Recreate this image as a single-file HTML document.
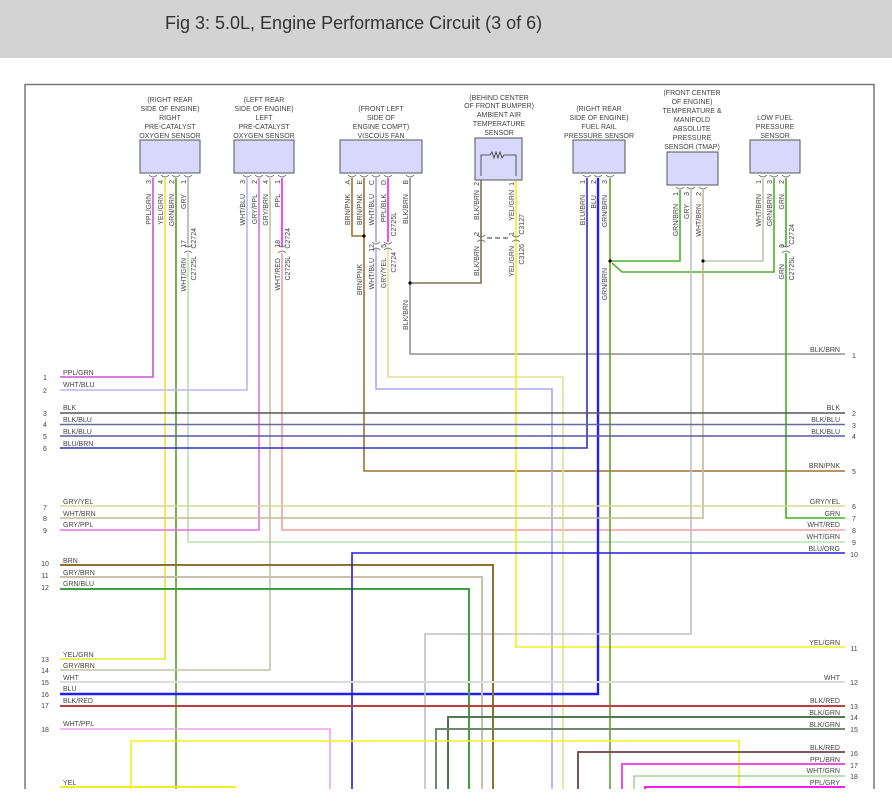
<!DOCTYPE html>
<html><head><meta charset="utf-8"><style>
html,body{margin:0;padding:0;background:#fff;width:892px;height:807px;overflow:hidden}
svg{display:block}
text{font-family:"Liberation Sans",sans-serif;fill:#444}
.s{font-size:7px}
.n{font-size:7px;fill:#555}
.v text{text-anchor:end}
</style></head><body>
<svg width="892" height="807" viewBox="0 0 892 807" xmlns="http://www.w3.org/2000/svg">
<rect x="0" y="0" width="892" height="58" fill="#d3d3d3"/>
<text x="165" y="29" style="font-size:18px;fill:#333">Fig 3: 5.0L, Engine Performance Circuit (3 of 6)</text>
<rect x="0" y="788" width="892" height="19" fill="#fff"/>
<path d="M25 789 V84.5 H874 V789" fill="none" stroke="#777" stroke-width="1.5"/>

<g fill="none" stroke-width="1.6">
<path d="M153 178 V377 H60" stroke="#d050d0"/>
<path d="M165 178 V659 H60" stroke="#e8e830"/>
<path d="M176 178 V789" stroke="#50a020"/>
<path d="M188 178 V247" stroke="#b0b0b0"/>
<path d="M188 253 V542 H845" stroke="#b8e0b0"/>
<path d="M247 178 V390 H60" stroke="#b8b8f0"/>
<path d="M259 178 V530 H60" stroke="#e070e0"/>
<path d="M270 178 V670 H60" stroke="#c8c0a8"/>
<path d="M282 178 V247" stroke="#f020f0"/>
<path d="M282 253 V530 H845" stroke="#f0a0a0"/>
<path d="M352 178 V236 H364" stroke="#a07030"/>
<path d="M364 178 V471 H845" stroke="#a07030"/>
<path d="M376 178 V242" stroke="#a0a0f0"/>
<path d="M376 248 V389 H552 V789" stroke="#a8a8f0"/>
<path d="M388 178 V242" stroke="#f020f0"/>
<path d="M388 248 V377 H563 V789" stroke="#e0e090"/>
<path d="M410 178 V354 H845" stroke="#909090"/>
<path d="M410 283 H481 V180" stroke="#807050"/>
<path d="M516 180 V647 H845" stroke="#f0f020"/>
<path d="M487 238 H510" stroke="#777" stroke-dasharray="5,3"/>
<path d="M587 178 V448 H60" stroke="#3030c0"/>
<path d="M598 178 V694 H60" stroke="#2020f0" stroke-width="2.4"/>
<path d="M610 178 V789" stroke="#60a030"/>
<path d="M610 261 H680 V190" stroke="#50b030"/>
<path d="M612 263 L622 272 H774 V178" stroke="#50b030"/>
<path d="M691 190 V634 H425 V789" stroke="#c0c0c0"/>
<path d="M703 190 V518 H60" stroke="#c8b890"/>
<path d="M703 261 H763 V178" stroke="#c8c0b0"/>
<path d="M786 178 V247" stroke="#40b020"/>
<path d="M786 253 V518 H845" stroke="#40b020"/>
<path d="M60 413 H845" stroke="#555"/>
<path d="M60 424.5 H845" stroke="#6868a0"/>
<path d="M60 436 H845" stroke="#5858a8"/>
<path d="M60 506 H845" stroke="#d8d890"/>
<path d="M60 565 H493 V789" stroke="#907030" stroke-width="2"/>
<path d="M60 577 H482 V789" stroke="#c8c0a8" stroke-width="2"/>
<path d="M60 589 H469 V789" stroke="#40a040" stroke-width="2"/>
<path d="M845 553 H352 V789" stroke="#2020e0"/>
<path d="M60 682 H845" stroke="#dcdcdc" stroke-width="2"/>
<path d="M60 706 H845" stroke="#e04040" stroke-width="2"/>
<path d="M60 706 H845" stroke="#444" stroke-width="0.6"/>
<path d="M845 717 H448 V789" stroke="#507850" stroke-width="2"/>
<path d="M845 729 H436 V789" stroke="#708870" stroke-width="2"/>
<path d="M60 729 H330 V789" stroke="#f0a0f0"/>
<path d="M131 789 V741 H739 V789" stroke="#f0f020"/>
<path d="M845 752 H578 V789" stroke="#704040" stroke-width="1.8"/>
<path d="M845 764 H622 V789" stroke="#f050e0" stroke-width="2"/>
<path d="M845 776 H634 V789" stroke="#a0d890"/>
<path d="M845 787 H645 V789" stroke="#f020f0" stroke-width="2"/>
<path d="M60 787 H236" stroke="#f0f020" stroke-width="2"/>
</g>
<g fill="#000"><circle cx="364" cy="236" r="1.6"/><circle cx="410" cy="283" r="1.6"/><circle cx="610" cy="261" r="1.6"/><circle cx="703" cy="261" r="1.6"/></g>
<g fill="none" stroke="#666" stroke-width="0.8">
<path d="M149 175 q4 4 8 0 M161 175 q4 4 8 0 M172 175 q4 4 8 0 M184 175 q4 4 8 0"/>
<path d="M243 175 q4 4 8 0 M255 175 q4 4 8 0 M266 175 q4 4 8 0 M278 175 q4 4 8 0"/>
<path d="M348 175 q4 4 8 0 M360 175 q4 4 8 0 M372 175 q4 4 8 0 M384 175 q4 4 8 0 M406 175 q4 4 8 0"/>
<path d="M583 175 q4 4 8 0 M594 175 q4 4 8 0 M606 175 q4 4 8 0"/>
<path d="M676 187 q4 4 8 0 M687 187 q4 4 8 0 M699 187 q4 4 8 0"/>
<path d="M759 175 q4 4 8 0 M770 175 q4 4 8 0 M782 175 q4 4 8 0"/>
<path d="M184 245 q4 4 8 0 M184 253 q4 -4 8 0"/>
<path d="M278 245 q4 4 8 0 M278 253 q4 -4 8 0"/>
<path d="M372 242 q4 4 8 0 M372 250 q4 -4 8 0"/>
<path d="M384 242 q4 4 8 0 M384 250 q4 -4 8 0"/>
<path d="M477 235 q4 4 8 0 M477 242 q4 -4 8 0"/>
<path d="M512 235 q4 4 8 0 M512 242 q4 -4 8 0"/>
<path d="M782 245 q4 4 8 0 M782 253 q4 -4 8 0"/>
</g>
<g fill="#d8d8fa" stroke="#555" stroke-width="1">
<rect x="140" y="140" width="60" height="33"/>
<rect x="234" y="140" width="60" height="33"/>
<rect x="340" y="140" width="82" height="33"/>
<rect x="475" y="138" width="47" height="42"/>
<rect x="573" y="140" width="52" height="33"/>
<rect x="667" y="152" width="51" height="33"/>
<rect x="750" y="140" width="50" height="33"/>
</g>
<path d="M481 176 V155 H490 l2 -3 2 6 2 -6 2 6 2 -6 2 6 2 -3 H516 V176" fill="none" stroke="#333" stroke-width="0.8"/>
<g class="s" text-anchor="middle">
<text x="170" y="102">(RIGHT REAR</text><text x="170" y="111">SIDE OF ENGINE)</text><text x="170" y="120">RIGHT</text><text x="170" y="129">PRE-CATALYST</text><text x="170" y="138">OXYGEN SENSOR</text>
<text x="264" y="102">(LEFT REAR</text><text x="264" y="111">SIDE OF ENGINE)</text><text x="264" y="120">LEFT</text><text x="264" y="129">PRE-CATALYST</text><text x="264" y="138">OXYGEN SENSOR</text>
<text x="381" y="111">(FRONT LEFT</text><text x="381" y="120">SIDE OF</text><text x="381" y="129">ENGINE COMPT)</text><text x="381" y="138">VISCOUS FAN</text>
<text x="499" y="100">(BEHIND CENTER</text><text x="499" y="108">OF FRONT BUMPER)</text><text x="499" y="117">AMBIENT AIR</text><text x="499" y="126">TEMPERATURE</text><text x="499" y="135">SENSOR</text>
<text x="599" y="111">(RIGHT REAR</text><text x="599" y="120">SIDE OF ENGINE)</text><text x="599" y="129">FUEL RAIL</text><text x="599" y="138">PRESSURE SENSOR</text>
<text x="692" y="95">(FRONT CENTER</text><text x="692" y="104">OF ENGINE)</text><text x="692" y="113">TEMPERATURE &amp;</text><text x="692" y="122">MANIFOLD</text><text x="692" y="131">ABSOLUTE</text><text x="692" y="140">PRESSURE</text><text x="692" y="149">SENSOR (TMAP)</text>
<text x="775" y="120">LOW FUEL</text><text x="775" y="129">PRESSURE</text><text x="775" y="138">SENSOR</text>
</g>
<g class="s v">
<text transform="translate(151,180) rotate(-90)">3</text><text transform="translate(151,194) rotate(-90)">PPL/GRN</text>
<text transform="translate(163,180) rotate(-90)">4</text><text transform="translate(163,194) rotate(-90)">YEL/GRN</text>
<text transform="translate(174,180) rotate(-90)">2</text><text transform="translate(174,194) rotate(-90)">GRN/BRN</text>
<text transform="translate(186,180) rotate(-90)">1</text><text transform="translate(186,194) rotate(-90)">GRY</text>
<text transform="translate(186,240) rotate(-90)">17</text><text transform="translate(196,228) rotate(-90)">C2724</text>
<text transform="translate(186,258) rotate(-90)">WHT/GRN</text><text transform="translate(196,256) rotate(-90)">C2725L</text>
<text transform="translate(245,180) rotate(-90)">3</text><text transform="translate(245,194) rotate(-90)">WHT/BLU</text>
<text transform="translate(257,180) rotate(-90)">2</text><text transform="translate(257,194) rotate(-90)">GRY/PPL</text>
<text transform="translate(268,180) rotate(-90)">4</text><text transform="translate(268,194) rotate(-90)">GRY/BRN</text>
<text transform="translate(280,180) rotate(-90)">1</text><text transform="translate(280,194) rotate(-90)">PPL</text>
<text transform="translate(280,240) rotate(-90)">18</text><text transform="translate(290,228) rotate(-90)">C2724</text>
<text transform="translate(280,258) rotate(-90)">WHT/RED</text><text transform="translate(290,256) rotate(-90)">C2725L</text>
<text transform="translate(350,180) rotate(-90)">A</text><text transform="translate(362,180) rotate(-90)">E</text><text transform="translate(374,180) rotate(-90)">C</text><text transform="translate(386,180) rotate(-90)">D</text><text transform="translate(408,180) rotate(-90)">B</text>
<text transform="translate(350,194) rotate(-90)">BRN/PNK</text><text transform="translate(362,194) rotate(-90)">BRN/PNK</text><text transform="translate(374,194) rotate(-90)">WHT/BLU</text><text transform="translate(386,194) rotate(-90)">PPL/BLK</text><text transform="translate(408,194) rotate(-90)">BLK/BRN</text>
<text transform="translate(396,212) rotate(-90)">C2725L</text><text transform="translate(396,252) rotate(-90)">C2724</text>
<text transform="translate(374,244) rotate(-90)">12</text><text transform="translate(386,244) rotate(-90)">5</text>
<text transform="translate(362,264) rotate(-90)">BRN/PNK</text><text transform="translate(374,258) rotate(-90)">WHT/BLU</text><text transform="translate(386,258) rotate(-90)">GRY/YEL</text>
<text transform="translate(408,300) rotate(-90)">BLK/BRN</text>
<text transform="translate(479,182) rotate(-90)">2</text><text transform="translate(514,182) rotate(-90)">1</text>
<text transform="translate(479,190) rotate(-90)">BLK/BRN</text><text transform="translate(514,190) rotate(-90)">YEL/GRN</text>
<text transform="translate(479,232) rotate(-90)">2</text><text transform="translate(514,232) rotate(-90)">1</text>
<text transform="translate(524,214) rotate(-90)">C3127</text><text transform="translate(524,244) rotate(-90)">C3126</text>
<text transform="translate(479,246) rotate(-90)">BLK/BRN</text><text transform="translate(514,246) rotate(-90)">YEL/GRN</text>
<text transform="translate(585,180) rotate(-90)">1</text><text transform="translate(596,180) rotate(-90)">2</text><text transform="translate(607,180) rotate(-90)">3</text>
<text transform="translate(585,195) rotate(-90)">BLU/BRN</text><text transform="translate(596,195) rotate(-90)">BLU</text><text transform="translate(607,195) rotate(-90)">GRN/BRN</text>
<text transform="translate(607,268) rotate(-90)">GRN/BRN</text>
<text transform="translate(678,192) rotate(-90)">1</text><text transform="translate(689,192) rotate(-90)">3</text><text transform="translate(701,192) rotate(-90)">2</text>
<text transform="translate(678,204) rotate(-90)">GRN/BRN</text><text transform="translate(689,204) rotate(-90)">GRY</text><text transform="translate(701,204) rotate(-90)">WHT/BRN</text>
<text transform="translate(761,180) rotate(-90)">1</text><text transform="translate(772,180) rotate(-90)">3</text><text transform="translate(784,180) rotate(-90)">2</text>
<text transform="translate(761,194) rotate(-90)">WHT/BRN</text><text transform="translate(772,194) rotate(-90)">GRN/BRN</text><text transform="translate(784,194) rotate(-90)">GRN</text>
<text transform="translate(784,244) rotate(-90)">8</text><text transform="translate(794,224) rotate(-90)">C2724</text>
<text transform="translate(784,264) rotate(-90)">GRN</text><text transform="translate(794,256) rotate(-90)">C2725L</text>
</g>
<g class="s">
<text x="63" y="375">PPL/GRN</text><text x="63" y="387">WHT/BLU</text><text x="63" y="410">BLK</text><text x="63" y="422">BLK/BLU</text><text x="63" y="434">BLK/BLU</text><text x="63" y="446">BLU/BRN</text>
<text x="63" y="504">GRY/YEL</text><text x="63" y="516">WHT/BRN</text><text x="63" y="527">GRY/PPL</text>
<text x="63" y="563">BRN</text><text x="63" y="575">GRY/BRN</text><text x="63" y="586">GRN/BLU</text>
<text x="63" y="657">YEL/GRN</text><text x="63" y="668">GRY/BRN</text><text x="63" y="680">WHT</text><text x="63" y="691">BLU</text><text x="63" y="703">BLK/RED</text><text x="63" y="726">WHT/PPL</text><text x="63" y="785">YEL</text>
</g>
<g class="n" text-anchor="middle">
<text x="45" y="380">1</text><text x="45" y="393">2</text><text x="45" y="416">3</text><text x="45" y="427">4</text><text x="45" y="439">5</text><text x="45" y="451">6</text>
<text x="45" y="510">7</text><text x="45" y="521">8</text><text x="45" y="533">9</text><text x="45" y="566">10</text><text x="45" y="578">11</text><text x="45" y="590">12</text>
<text x="45" y="662">13</text><text x="45" y="673">14</text><text x="45" y="685">15</text><text x="45" y="697">16</text><text x="45" y="708">17</text><text x="45" y="732">18</text>
</g>
<g class="s" text-anchor="end">
<text x="840" y="352">BLK/BRN</text><text x="840" y="410">BLK</text><text x="840" y="422">BLK/BLU</text><text x="840" y="434">BLK/BLU</text><text x="840" y="468">BRN/PNK</text>
<text x="840" y="504">GRY/YEL</text><text x="840" y="516">GRN</text><text x="840" y="527">WHT/RED</text><text x="840" y="539">WHT/GRN</text><text x="840" y="551">BLU/ORG</text>
<text x="840" y="645">YEL/GRN</text><text x="840" y="680">WHT</text><text x="840" y="703">BLK/RED</text><text x="840" y="715">BLK/GRN</text><text x="840" y="727">BLK/GRN</text>
<text x="840" y="750">BLK/RED</text><text x="840" y="762">PPL/BRN</text><text x="840" y="773">WHT/GRN</text><text x="840" y="785">PPL/GRY</text>
</g>
<g class="n" text-anchor="middle">
<text x="854" y="358">1</text><text x="854" y="416">2</text><text x="854" y="428">3</text><text x="854" y="439">4</text><text x="854" y="474">5</text>
<text x="854" y="509">6</text><text x="854" y="521">7</text><text x="854" y="533">8</text><text x="854" y="545">9</text><text x="854" y="557">10</text>
<text x="854" y="651">11</text><text x="854" y="685">12</text><text x="854" y="709">13</text><text x="854" y="720">14</text><text x="854" y="732">15</text>
<text x="854" y="756">16</text><text x="854" y="768">17</text><text x="854" y="779">18</text>
</g>
</svg>
</body></html>
